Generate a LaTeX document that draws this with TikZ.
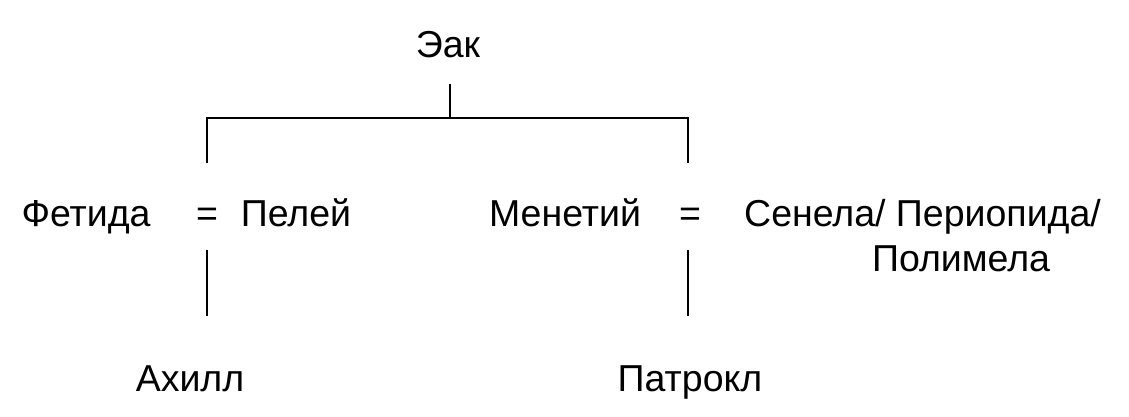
\documentclass[tikz,border=0pt]{standalone}
\usepackage{fontspec}
\setmainfont{Liberation Sans}
\begin{document}
\begin{tikzpicture}[x=1pt,y=-1pt,
  lbl/.style={font=\fontsize{37.5}{44}\selectfont, inner sep=0pt, anchor=base},
  ln/.style={line width=2.4pt}]
\useasboundingbox (0,0) rectangle (1129,416);
\node[lbl] (eak) at (448,57) {Эак};
\node[lbl] (fet) at (86,226) {Фетида};
\node[lbl] (eq1) at (207,226) {=};
\node[lbl] (pel) at (296,226) {Пелей};
\node[lbl] (men) at (565,226) {Менетий};
\node[lbl] (eq2) at (690,226) {=};
\node[lbl,anchor=base west] (sen) at (744,226) {Сенела/ Периопида/};
\node[lbl] (pol) at (961,271) {Полимела};
\node[lbl] (ach) at (190,391) {Ахилл};
\node[lbl] (pat) at (690,391) {Патрокл};
\coordinate (top) at (450,84);
\coordinate (bar) at (450,118);
\coordinate (bl) at (207,118);
\coordinate (br) at (688,118);
\coordinate (bld) at (207,163);
\coordinate (brd) at (688,163);
\coordinate (a1) at (207,250);
\coordinate (a2) at (207,316);
\coordinate (p1) at (688,250);
\coordinate (p2) at (688,316);
\draw[ln] (top) -- (bar);
\draw[ln] (bld) -- (bl) -- (br) -- (brd);
\draw[ln] (a1) -- (a2);
\draw[ln] (p1) -- (p2);
\end{tikzpicture}
\end{document}
